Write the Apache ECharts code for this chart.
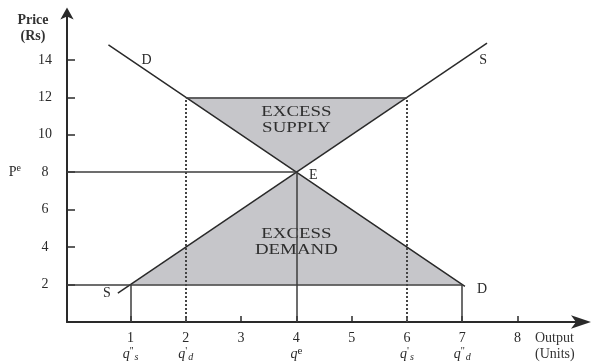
<!DOCTYPE html>
<html>
<head>
<meta charset="utf-8">
<script src="https://cdn.jsdelivr.net/npm/echarts@6/dist/echarts.min.js"></script>
<style>
  html, body { margin: 0; padding: 0; background: #fff; }
  #chart { width: 592px; height: 362px; }
</style>
</head>
<body>
<div id="chart"></div>
<script>
// tick labels
const xTicks = [1, 2, 3, 4, 5, 6, 7, 8]
const xSubLabels = {
  1: "{q|q}{sup|''}{sub|s}",
  2: "{q|q}{sup|'}{sub|d}",
  4: '{q|q}{sup|e}',
  6: "{q|q}{sup|'}{sub|s}",
  7: "{q|q}{sup|''}{sub|d}",
}
const yTicks = [2, 4, 6, 8, 10, 12, 14]

// curves
const demandLine = [[0.6, 14.8], [4, 8], [7.05, 1.9]]
const supplyLine = [[0.77, 1.54], [7.45, 14.9]]

// shaded areas
const excessSupply = [[2, 12], [6, 12], [4, 8]]
const excessDemand = [[1, 2], [7, 2], [4, 8]]

// guide lines
const solidGuides = [
  [[-0.15, 8], [4, 8]],
  [[4, 8], [4, 0]],
  [[-0.15, 2], [7, 2]],
  [[1, 0], [1, 2]],
  [[7, 0], [7, 2]],
  [[2, 12], [6, 12]],
]
const dottedGuides = [
  [[2, 0], [2, 12]],
  [[6, 0], [6, 12]],
]

const font = 'Liberation Serif'
const ink = '#2a2a2a'

const chart = echarts.init(document.getElementById('chart'))

// 三角形阴影区 + 文字
const triangleSeries = (pts, text, dy) => ({
  type: 'custom',
  silent: true,
  z: 1,
  data: [0],
  renderItem: (params, api) => {
    const points = pts.map((p) => api.coord(p))
    const cx = points.reduce((s, p) => s + p[0], 0) / 3
    const cy = points.reduce((s, p) => s + p[1], 0) / 3
    return {
      type: 'group',
      children: [
        {
          type: 'polygon',
          shape: { points },
          style: { fill: '#c6c6ca', stroke: null },
        },
        {
          type: 'text',
          x: cx,
          y: cy + dy,
          scaleX: 1.35,
          style: {
            text,
            fill: '#2e2e2e',
            font: '14px "' + font + '"',
            align: 'center',
            verticalAlign: 'middle',
            lineHeight: 16,
          },
        },
      ],
    }
  },
})

const labelStyle = {
  show: true,
  color: ink,
  fontFamily: font,
  fontSize: 14,
  position: 'inside',
}

const option = {
  animation: false,
  grid: { left: 67, right: 11, top: 12.5, bottom: 39.5 },
  xAxis: {
    type: 'value',
    min: -0.15,
    max: 9.15,
    splitLine: { show: false },
    axisLine: {
      lineStyle: { color: ink, width: 2 },
      symbol: ['none', 'arrow'],
      symbolSize: [10, 20],
      symbolOffset: [0, 10],
    },
    axisTick: {
      customValues: xTicks,
      inside: true,
      length: 6,
      lineStyle: { color: ink, width: 1.5 },
    },
    axisLabel: {
      customValues: xTicks,
      margin: 8,
      color: ink,
      fontFamily: font,
      fontSize: 14,
      lineHeight: 16,
      formatter: (v) => '{n|' + v + '}\n' + (xSubLabels[v] || ''),
      rich: {
        n: { fontFamily: font, fontSize: 14, color: ink, lineHeight: 16 },
        q: { fontFamily: font, fontSize: 14, fontStyle: 'italic', color: ink, lineHeight: 16 },
        sup: { fontFamily: font, fontSize: 11, verticalAlign: 'top', color: ink, lineHeight: 10 },
        sub: { fontFamily: font, fontSize: 10, fontStyle: 'italic', verticalAlign: 'bottom', padding: [8, 0, 0, 1], color: ink },
      },
    },
  },
  yAxis: {
    type: 'value',
    min: 0,
    max: 16.53,
    splitLine: { show: false },
    axisLine: {
      onZero: false,
      lineStyle: { color: ink, width: 2 },
      symbol: ['none', 'arrow'],
      symbolSize: [10, 12],
      symbolOffset: [0, 5],
    },
    axisTick: {
      customValues: yTicks,
      inside: true,
      length: 8,
      lineStyle: { color: ink, width: 1.5 },
    },
    axisLabel: {
      customValues: yTicks,
      margin: 14,
      align: 'right',
      color: ink,
      fontFamily: font,
      fontSize: 14,
      formatter: (v) => (v === 8 ? '{p|P}{e|e}{g|}{n|8}' : '{n|' + v + '}'),
      rich: {
        n: { fontFamily: font, fontSize: 14, width: 16, align: 'center', color: ink, lineHeight: 18 },
        p: { fontFamily: font, fontSize: 14, color: ink, lineHeight: 18 },
        e: { fontFamily: font, fontSize: 10, verticalAlign: 'top', color: ink, lineHeight: 10 },
        g: { width: 16 },
      },
    },
  },
  graphic: [
    {
      type: 'text',
      x: 33,
      y: 12,
      style: {
        text: 'Price\n(Rs)',
        fill: '#333',
        font: 'bold 14px "' + font + '"',
        align: 'center',
        lineHeight: 16,
      },
    },
    {
      type: 'text',
      x: 535,
      y: 330,
      style: {
        text: 'Output\n(Units)',
        fill: '#333',
        font: '14px "' + font + '"',
        align: 'left',
        lineHeight: 16,
      },
    },
  ],
  series: [
    triangleSeries(excessSupply, 'EXCESS\nSUPPLY', -2),
    triangleSeries(excessDemand, 'EXCESS\nDEMAND', -5),
    {
      type: 'line',
      silent: true,
      z: 2,
      data: [],
      markLine: {
        silent: true,
        symbol: 'none',
        label: { show: false },
        lineStyle: { color: '#3c3c3c', width: 1.5, type: 'solid' },
        data: solidGuides.map(([a, b]) => [{ coord: a }, { coord: b }]),
      },
    },
    {
      type: 'line',
      silent: true,
      z: 2,
      data: [],
      markLine: {
        silent: true,
        symbol: 'none',
        label: { show: false },
        lineStyle: { color: '#444', width: 2, type: [2, 2] },
        data: dottedGuides.map(([a, b]) => [{ coord: a }, { coord: b }]),
      },
    },
    {
      name: 'D',
      type: 'line',
      z: 3,
      symbolSize: 0,
      lineStyle: { color: ink, width: 1.5 },
      data: demandLine.map((p, i) => ({
        value: p,
        label:
          i === 0
            ? { ...labelStyle, formatter: 'D', offset: [38, 15] }
            : i === 1
            ? { ...labelStyle, formatter: 'E', offset: [17, 3] }
            : { ...labelStyle, formatter: 'D', offset: [17, 3] },
      })),
    },
    {
      name: 'S',
      type: 'line',
      z: 3,
      symbolSize: 0,
      lineStyle: { color: ink, width: 1.5 },
      data: supplyLine.map((p, i) => ({
        value: p,
        label:
          i === 0
            ? { ...labelStyle, formatter: 'S', offset: [-11, 0] }
            : { ...labelStyle, formatter: 'S', offset: [-4, 17] },
      })),
    },
  ],
}

chart.setOption(option)
</script>
</body>
</html>
